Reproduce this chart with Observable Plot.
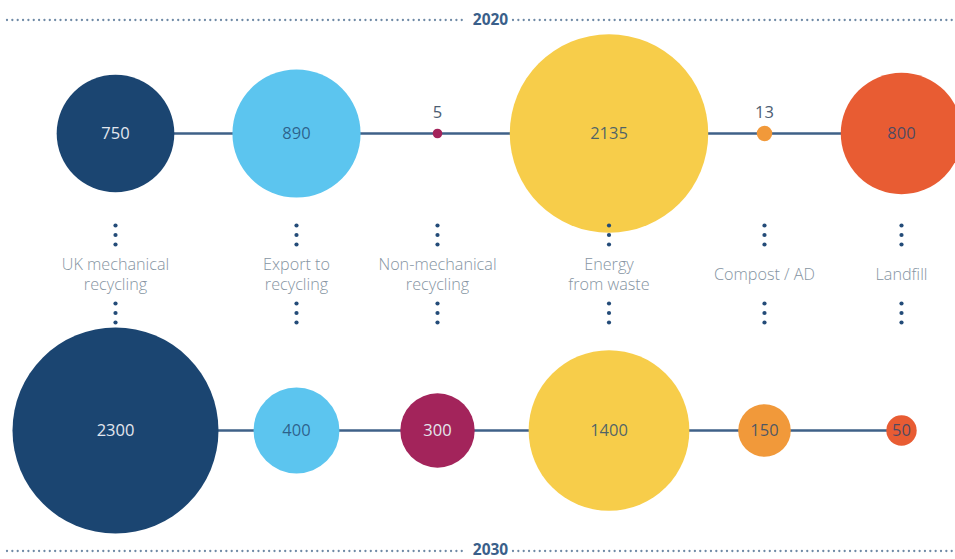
<!DOCTYPE html>
<html>
<head>
<meta charset="utf-8">
<script src="https://cdn.jsdelivr.net/npm/d3@7"></script>
<script src="https://cdn.jsdelivr.net/npm/@observablehq/plot@0.6"></script>
<style>
  html, body { margin: 0; padding: 0; background: #fff; }
  #chart svg { display: block; }
</style>
</head>
<body>
<div id="chart"></div>
<script>
// ---- data ----
const categories = ["UK mechanical\nrecycling", "Export to\nrecycling", "Non-mechanical\nrecycling", "Energy\nfrom waste", "Compost / AD", "Landfill"];
const years = [2020, 2030];
const values2020 = [750, 890, 5, 2135, 13, 800];
const values2030 = [2300, 400, 300, 1400, 150, 50];

// ---- styles ----
const fills = ["#1b4571", "#5cc5ef", "#a3245b", "#f7cd4a", "#f1993a", "#e85c33"];
const darkFill = [true, false, true, false, false, false];
const navy = "#21456f";

const rows = [];
years.forEach((year, yi) => {
  const vals = yi === 0 ? values2020 : values2030;
  categories.forEach((cat, i) => rows.push({cat, i, year, value: vals[i]}));
});
const inside = rows.filter(d => d.value >= 40);
const above = rows.filter(d => d.value < 40);

const dotOffsets = [-48.5, -39, -29.5, 29.5, 39, 48.5];

// dotted header / footer rule with a gap for the year label
const headerRule = (anchor) => (index, scales, values, dims) => {
  const y = anchor === "top" ? dims.marginTop : dims.height - dims.marginBottom;
  const cx = dims.width / 2 + 12.5;
  const g = d3.create("svg:g")
    .attr("stroke", "#6f8aa6")
    .attr("stroke-width", 2.3)
    .attr("stroke-linecap", "round")
    .attr("stroke-dasharray", "0 5.35");
  g.append("line").attr("x1", 7).attr("x2", cx - 25).attr("y1", y).attr("y2", y);
  g.append("line").attr("x1", cx + 23).attr("x2", dims.width).attr("y1", y).attr("y2", y);
  return g.node();
};

const chart = Plot.plot({
  width: 955,
  height: 559,
  marginTop: 20,
  marginBottom: 8,
  marginLeft: 0,
  marginRight: 0,
  style: {fontFamily: "'Open Sans', sans-serif", background: "#fff"},
  x: {type: "linear", domain: [0, 1, 2, 3, 4, 5], range: [115, 296, 437, 608.5, 764, 901], axis: null},
  y: {type: "linear", domain: [2020, 2030], range: [133, 430], axis: null},
  r: {type: "sqrt", domain: [0, 2300], range: [0, 103]},
  color: {type: "identity"},
  marks: [
    headerRule("top"),
    headerRule("bottom"),
    Plot.text([String(years[0])], {frameAnchor: "top", lineAnchor: "middle", dx: 12.5, fontSize: 15.5, fontWeight: "bold", fill: "#3a5f8a"}),
    Plot.text([String(years[1])], {frameAnchor: "bottom", lineAnchor: "middle", dx: 12.5, dy: -1.5, fontSize: 15.5, fontWeight: "bold", fill: "#3a5f8a"}),
    Plot.line(rows, {x: "i", y: "year", z: "year", stroke: "#3f6188", strokeWidth: 2.6}),
    Plot.dot(rows, {x: "i", y: "year", r: "value", fill: d => fills[d.i], stroke: null}),
    Plot.text(inside, {x: "i", y: "year", text: d => String(d.value), fontSize: 16.5,
      fill: d => darkFill[d.i] ? "#e3e7ee" : navy,
      fillOpacity: d => darkFill[d.i] ? 1 : 0.78}),
    Plot.text(above, {x: "i", y: "year", dy: -21, text: d => String(d.value), fontSize: 16.5, fill: "#4c5d72"}),
    Plot.text(categories, {x: (d, i) => i, y: () => 2025, dy: -8, text: d => d, fontSize: 16.2, fontWeight: 300, lineHeight: 1.23, fill: "#8594a2"}),
    ...dotOffsets.map(o => Plot.dot(categories, {x: (d, i) => i, y: () => 2025, dy: -8 + o, r: 2.1, fill: "#234b78"}))
  ]
});
document.getElementById("chart").append(chart);
</script>
</body>
</html>
